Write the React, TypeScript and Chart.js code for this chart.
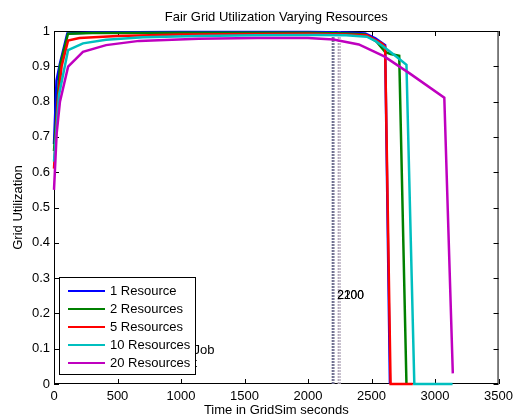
import React, { useEffect, useRef } from "react";
import { Chart, registerables } from "chart.js";

Chart.register(...registerables);

const TITLE = "Fair Grid Utilization Varying Resources";
const X_LABEL = "Time in GridSim seconds";
const Y_LABEL = "Grid Utilization";
const X_TICKS = [0, 500, 1000, 1500, 2000, 2500, 3000, 3500];
const Y_TICKS = [0, 0.1, 0.2, 0.3, 0.4, 0.5, 0.6, 0.7, 0.8, 0.9, 1];

const SERIES_NAMES = ["1 Resource", "2 Resources", "5 Resources", "10 Resources", "20 Resources"];
const SERIES_COLORS = ["#0000ff", "#008000", "#ff0000", "#00bfbf", "#bf00bf"];

const T1 = [0, 20, 47, 105, 300, 1000, 2000, 2300, 2450, 2530, 2607, 2645];
const U1 = [0.68, 0.86, 0.908, 0.993, 0.996, 0.997, 0.997, 0.996, 0.993, 0.979, 0.96, 0];

const T2 = [0, 47, 110, 300, 1000, 2000, 2300, 2450, 2540, 2607, 2650, 2718, 2775];
const U2 = [0.66, 0.9, 0.992, 0.994, 0.995, 0.995, 0.993, 0.99, 0.97, 0.941, 0.935, 0.93, 0];

const T5 = [0, 30, 60, 111, 200, 500, 1000, 2000, 2300, 2463, 2580, 2607, 2650, 2825];
const U5 = [0.61, 0.8, 0.9, 0.973, 0.98, 0.986, 0.99, 0.992, 0.99, 0.988, 0.965, 0.956, 0, 0];

const T10 = [0, 40, 111, 228, 410, 700, 1138, 1600, 2073, 2300, 2463, 2530, 2593, 2697, 2775, 2837, 3138];
const U10 = [0.63, 0.82, 0.946, 0.965, 0.975, 0.982, 0.986, 0.988, 0.989, 0.988, 0.984, 0.972, 0.956, 0.927, 0.904, 0, 0];

const T20 = [0, 21, 47, 111, 228, 410, 670, 1138, 1600, 2000, 2200, 2400, 2600, 2800, 3073, 3140];
const U20 = [0.55, 0.71, 0.8, 0.899, 0.941, 0.96, 0.972, 0.978, 0.98, 0.98, 0.976, 0.962, 0.928, 0.88, 0.811, 0.03];

const SERIES_T = [T1, T2, T5, T10, T20];
const SERIES_U = [U1, U2, U5, U10, U20];

const MARKER_X = [2192, 2203, 2239, 2252];
const MARKER_COLORS = ["#6f6f90", "#7a7a99", "#b4a9bb", "#b9b0c0"];
const MARKER_TEXTS = ["2100", "2200"];
const MARKER_TEXT_POS = [2230, 0.249];

const NOTE_TEXTS = ["Job", "t"];
const NOTE_POS_X = 1099;
const NOTE_POS_Y = [0.094, 0.059];

const FONT = "'Liberation Sans', Arial, Helvetica, sans-serif";

const decorPlugin = {
  id: "decor",
  beforeDatasetsDraw(chart: any) {
    const { ctx, chartArea: a, scales } = chart;
    const xs = scales.x;
    const ys = scales.y;
    ctx.save();
    ctx.strokeStyle = "#000";
    ctx.lineWidth = 1;
    ctx.strokeRect(a.left + 0.5, a.top + 0.5, a.right - a.left - 1, a.bottom - a.top - 1);
    ctx.beginPath();
    const tl = 5;
    X_TICKS.forEach((v) => {
      const px = Math.round(xs.getPixelForValue(v)) + 0.5;
      ctx.moveTo(px, a.bottom);
      ctx.lineTo(px, a.bottom - tl);
      ctx.moveTo(px, a.top);
      ctx.lineTo(px, a.top + tl);
    });
    Y_TICKS.forEach((v) => {
      const py = Math.round(ys.getPixelForValue(v)) + 0.5;
      ctx.moveTo(a.left, py);
      ctx.lineTo(a.left + tl, py);
      ctx.moveTo(a.right, py);
      ctx.lineTo(a.right - tl, py);
    });
    ctx.stroke();
    ctx.restore();
  },
  afterDraw(chart: any) {
    const { ctx, chartArea: a, scales } = chart;
    const xs = scales.x;
    const ys = scales.y;
    ctx.save();
    ctx.fillStyle = "#000";
    ctx.font = `13px ${FONT}`;
    ctx.textAlign = "center";
    ctx.textBaseline = "middle";
    ctx.fillText(TITLE, (a.left + a.right) / 2, 17);
    ctx.fillText(X_LABEL, (a.left + a.right) / 2, 410);
    ctx.save();
    ctx.translate(18, (a.top + a.bottom) / 2);
    ctx.rotate(-Math.PI / 2);
    ctx.fillText(Y_LABEL, 0, 0);
    ctx.restore();

    // marker texts
    ctx.textAlign = "left";
    ctx.font = `12px ${FONT}`;
    MARKER_TEXTS.forEach((t) => {
      ctx.fillText(t, xs.getPixelForValue(MARKER_TEXT_POS[0]), ys.getPixelForValue(MARKER_TEXT_POS[1]));
    });
    ctx.font = `13px ${FONT}`;
    // notes
    NOTE_TEXTS.forEach((t, i) => {
      ctx.fillText(t, xs.getPixelForValue(NOTE_POS_X), ys.getPixelForValue(NOTE_POS_Y[i]));
    });

    // legend
    const lx = 59.5, ly = 277.5, lw = 136, lh = 97;
    ctx.fillStyle = "#fff";
    ctx.fillRect(lx, ly, lw, lh);
    ctx.strokeStyle = "#000";
    ctx.lineWidth = 1;
    ctx.strokeRect(lx, ly, lw, lh);
    SERIES_NAMES.forEach((name, i) => {
      const ry = 291 + i * 18;
      ctx.strokeStyle = SERIES_COLORS[i];
      ctx.lineWidth = 2;
      ctx.beginPath();
      ctx.moveTo(68, ry);
      ctx.lineTo(105, ry);
      ctx.stroke();
      ctx.fillStyle = "#000";
      ctx.textAlign = "left";
      ctx.textBaseline = "middle";
      ctx.fillText(name, 110, ry);
    });
    ctx.restore();
  },
};

export default function App() {
  const ref = useRef<HTMLCanvasElement>(null);
  useEffect(() => {
    document.body.style.margin = "0";
    const canvas = ref.current;
    if (!canvas) return;
    const datasets: any[] = SERIES_NAMES.map((name, i) => ({
      label: name,
      data: SERIES_T[i].map((t, j) => ({ x: t, y: SERIES_U[i][j] })),
      borderColor: SERIES_COLORS[i],
      backgroundColor: SERIES_COLORS[i],
      borderWidth: 2.5,
      pointRadius: 0,
      tension: 0,
      fill: false,
      clip: 4,
      order: 10 - i,
    }));
    MARKER_X.forEach((mx, i) => {
      datasets.push({
        label: "marker" + i,
        data: [{ x: mx, y: 0 }, { x: mx, y: 1 }],
        borderColor: MARKER_COLORS[i],
        borderWidth: 1.5,
        borderDash: [2, 1],
        pointRadius: 0,
        fill: false,
        order: 20,
      });
    });
    const chart = new Chart(canvas, {
      type: "line",
      data: { datasets },
      plugins: [decorPlugin],
      options: {
        responsive: false,
        animation: false,
        events: [],
        layout: { padding: { top: 31, right: 15, left: 0, bottom: 0 } },
        plugins: { legend: { display: false }, title: { display: false }, tooltip: { enabled: false } },
        scales: {
          x: {
            type: "linear",
            min: 0,
            max: 3500,
            afterFit: (s: any) => { s.height = 35; },
            afterBuildTicks: (s: any) => { s.ticks = X_TICKS.map((v) => ({ value: v })); },
            grid: { display: true, drawOnChartArea: false, drawTicks: false },
            border: { display: false },
            ticks: { padding: 5, color: "#000", font: { family: FONT, size: 13 }, maxRotation: 0, autoSkip: false, callback: (v: any) => String(v) },
          },
          y: {
            type: "linear",
            min: 0,
            max: 1,
            afterFit: (s: any) => { s.width = 54; },
            afterBuildTicks: (s: any) => { s.ticks = Y_TICKS.map((v) => ({ value: v })); },
            grid: { display: true, drawOnChartArea: false, drawTicks: false },
            border: { display: false },
            ticks: { padding: 4, color: "#000", font: { family: FONT, size: 13 }, autoSkip: false, callback: (v: any) => String(Math.round(v * 10) / 10) },
          },
        },
      },
    });
    return () => chart.destroy();
  }, []);
  return <canvas ref={ref} width={518} height={419} style={{ display: "block", width: 518, height: 419 }} />;
}
